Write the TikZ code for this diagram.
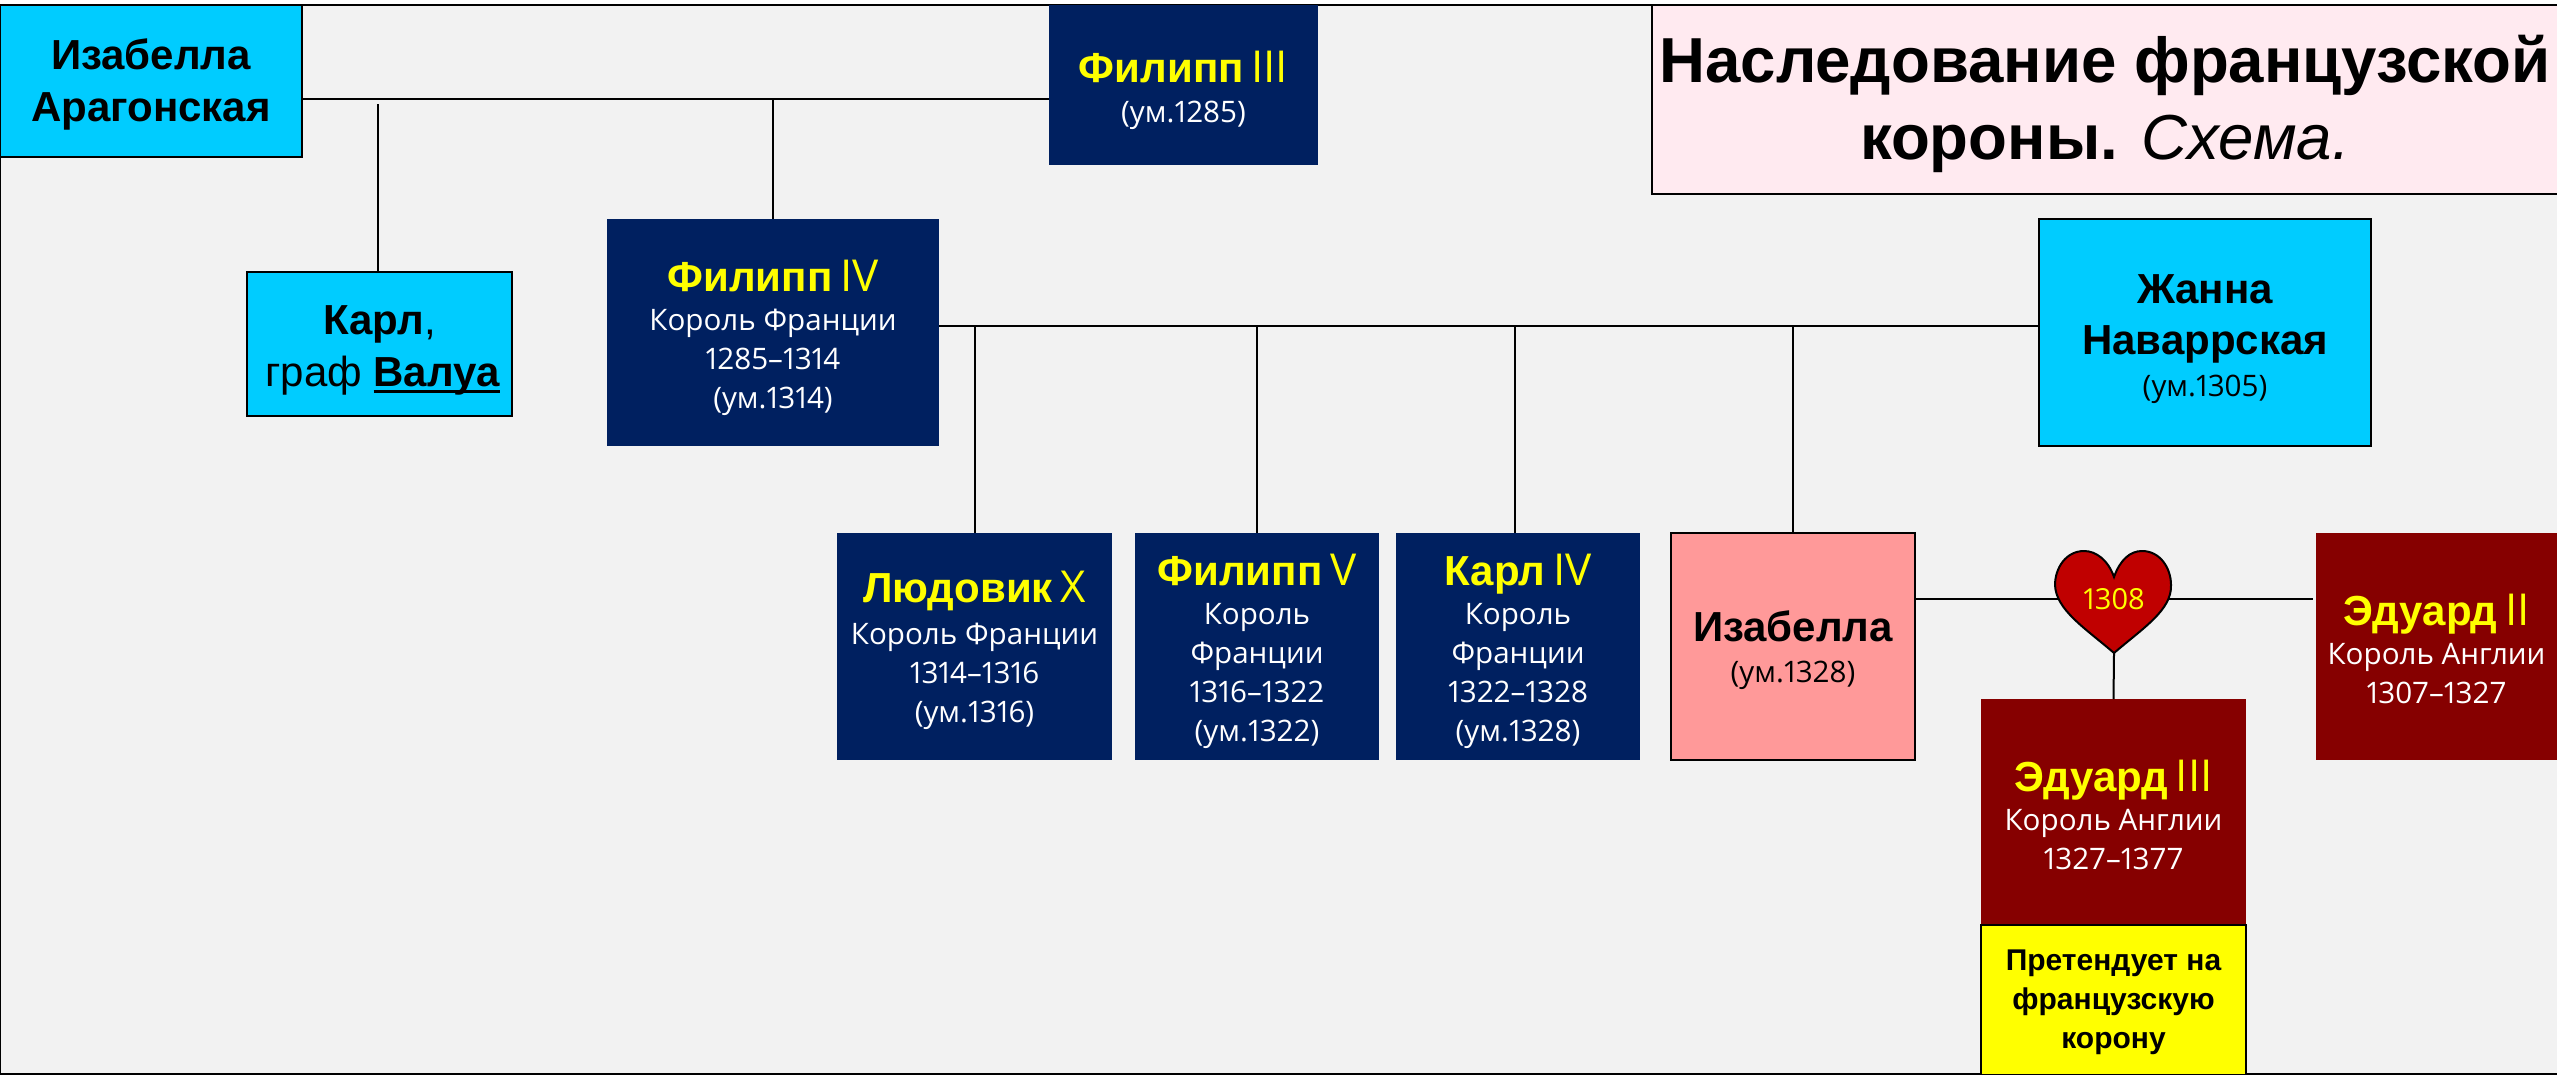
\documentclass[tikz,border=0pt]{standalone}
\usepackage{fontspec}
\setmainfont{Liberation Sans}
\newfontfamily\osf[Numbers=Proportional]{Open Sans}
\newcommand{\nm}[1]{{\fontsize{21}{21}\selectfont\rmfamily\bfseries #1}}
\newcommand{\rgn}[1]{{\fontsize{21}{21}\selectfont\rmfamily #1}}
\newcommand{\rn}[1]{{\fontsize{22}{22}\selectfont\osf #1}}
\newcommand{\dn}[1]{\rule{0pt}{#1pt}}
\newcommand{\thickul}[1]{\setbox0\hbox{#1}\rlap{\rule[-3.4pt]{\wd0}{1.7pt}}\box0}
\definecolor{navyb}{HTML}{002060}
\definecolor{cyanb}{HTML}{00CCFF}
\definecolor{redb}{HTML}{860000}
\definecolor{pinkb}{HTML}{FF9999}
\definecolor{titleb}{HTML}{FFEAF0}
\definecolor{bgb}{HTML}{F2F2F2}
\definecolor{heartb}{HTML}{C00000}
\definecolor{yelb}{HTML}{FFFF00}
\tikzset{
  every node/.style={inner sep=0pt,outer sep=0pt},
  person/.style={rectangle,align=center,font=\fontsize{14.8}{19.5}\selectfont\osf},
  navybox/.style={person,fill=navyb,text=white},
  redbox/.style={person,fill=redb,text=white},
  cyanbox/.style={person,fill=cyanb,draw=black,line width=1pt,text=black},
  pinkbox/.style={person,fill=pinkb,draw=black,line width=1pt,text=black},
  claimbox/.style={rectangle,align=center,fill=yelb,draw=black,line width=1pt,font=\fontsize{15}{19.5}\selectfont\bfseries},
  titlebox/.style={rectangle,align=center,fill=titleb,draw=black,line width=.8pt,font=\fontsize{31.8}{38.5}\selectfont},
  link/.style={draw=black,line width=1pt},
}
\begin{document}
\begin{tikzpicture}[x=0.5pt,y=-0.5pt]
\useasboundingbox (0,0) rectangle (2557,1075);
\begin{scope}
\clip (0,0) rectangle (2557,1075);
\fill[white] (0,0) rectangle (2557,1075);
\draw[fill=bgb,line width=1pt] (0,5) rectangle (2560,1074);
\coordinate (ja) at (0,99);
\coordinate (jb) at (0,326);
\coordinate (jc) at (378,104);
\coordinate (hb) at (2114,653);

\node[titlebox,minimum width=453pt,minimum height=94.5pt] (title) at (2105,99.5)
  {\dn{28}\textbf{Наследование французской}\\\textbf{короны.} \textit{Схема.}};

\node[cyanbox,minimum width=151pt,minimum height=76pt,font=\fontsize{14.8}{26}\selectfont\osf] (izar) at (151,81)
  {\dn{19}\nm{Изабелла}\\\nm{Арагонская}};
\node[navybox,minimum width=134.5pt,minimum height=80pt] (ph3) at (1183.5,85)
  {\dn{21}\nm{\textcolor{yelb}{Филипп}} \textcolor{yelb}{\rn{III}}\\[.7pt](ум.1285)};
\node[cyanbox,minimum width=132.5pt,minimum height=72pt,font=\fontsize{14.8}{26}\selectfont\osf] (karl) at (379.5,344)
  {\dn{21}\nm{Карл}\rgn{,}\\\hspace*{3pt}\rgn{граф }\nm{\thickul{Валуа}}};
\node[navybox,minimum width=166pt,minimum height=113.5pt] (ph4) at (773,332.5)
  {\dn{21}\nm{\textcolor{yelb}{Филипп}} \textcolor{yelb}{\rn{IV}}\\Король Франции\\1285–1314\\(ум.1314)};
\node[cyanbox,minimum width=166pt,minimum height=113.5pt,font=\fontsize{14.8}{25.5}\selectfont\osf] (zhan) at (2205,332.5)
  {\dn{21}\nm{Жанна}\\\nm{Наваррская}\\[-4.5pt](ум.1305)};
\node[navybox,minimum width=137.5pt,minimum height=113.5pt] (lud) at (974.5,646.5)
  {\dn{20}\nm{\textcolor{yelb}{Людовик}} \textcolor{yelb}{\rn{X}}\\[1.5pt]Король Франции\\1314–1316\\(ум.1316)};
\node[navybox,minimum width=122pt,minimum height=113.5pt] (ph5) at (1257,646.5)
  {\dn{21}\nm{\textcolor{yelb}{Филипп}} \textcolor{yelb}{\rn{V}}\\Король\\Франции\\1316–1322\\(ум.1322)};
\node[navybox,minimum width=122pt,minimum height=113.5pt] (ka4) at (1518,646.5)
  {\dn{21}\nm{\textcolor{yelb}{Карл}} \textcolor{yelb}{\rn{IV}}\\Король\\Франции\\1322–1328\\(ум.1328)};
\node[pinkbox,minimum width=122pt,minimum height=113.5pt] (izf) at (1793,646.5)
  {\dn{19.5}\nm{Изабелла}\\[1pt](ум.1328)};
\node[redbox,minimum width=120.5pt,minimum height=113.5pt] (ed2) at (2436.5,646.5)
  {\dn{18.5}\nm{\textcolor{yelb}{Эдуард}} \textcolor{yelb}{\rn{II}}\\Король Англии\\1307–1327};
\node[redbox,minimum width=132.5pt,minimum height=113pt] (ed3) at (2113.5,812)
  {\dn{18.5}\nm{\textcolor{yelb}{Эдуард}} \textcolor{yelb}{\rn{III}}\\Король Англии\\1327–1377};
\node[claimbox,minimum width=132.5pt,minimum height=75pt] (claim) at (2113.5,1000)
  {\dn{13}Претендует на\\французскую\\корону};

% links
\draw[link] (izar.east |- ja) -- (ph3.west |- ja);
\draw[link] (karl.north -| jc) -- (jc);
\draw[link] (ph4.north) -- (ph4.north |- ja);
\draw[link] (ph4.east |- jb) -- (zhan.west |- jb);
\draw[link] (lud.north) -- (lud.north |- jb);
\draw[link] (ph5.north) -- (ph5.north |- jb);
\draw[link] ([xshift=-1.5pt]ka4.north) -- ([xshift=-1.5pt]ka4.north |- jb);
\draw[link] (izf.north) -- (izf.north |- jb);

% heart
\node[minimum width=54pt,minimum height=20pt] (heart) at (2114,599) {};
\draw[link] (izf.east |- heart.west) -- (heart.west);
\draw[link] (heart.east) -- ([xshift=-1.5pt]ed2.west |- heart.east);
\draw[link] (hb) -- (ed3.north);
\draw[fill=heartb,line width=1pt]
  (2114,577) .. controls (2108,560) and (2096,551) .. (2084,551)
  .. controls (2066,551) and (2055,568) .. (2055,585)
  .. controls (2056,610) and (2085,628) .. (hb)
  .. controls (2143,628) and (2172,610) .. (2171,585)
  .. controls (2171,568) and (2160,551) .. (2142,551)
  .. controls (2130,551) and (2120,560) .. (2114,577) -- cycle;
\node[text=yelb,font=\fontsize{14.5}{14.5}\selectfont\osf] (yr) at (2114,599) {1308};
\end{scope}
\end{tikzpicture}
\end{document}
